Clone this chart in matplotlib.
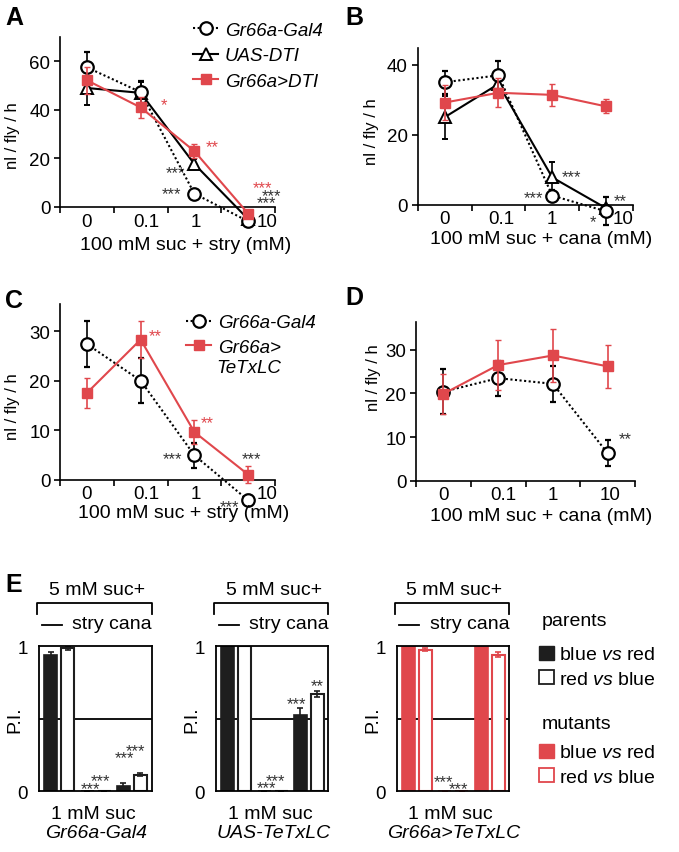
import matplotlib
matplotlib.use("Agg")
import matplotlib.pyplot as plt
from matplotlib.lines import Line2D
from matplotlib.patches import Patch

plt.rcParams['font.family'] = ['Liberation Sans', 'DejaVu Sans']
plt.rcParams['mathtext.fontset'] = 'custom'
plt.rcParams['mathtext.rm'] = 'Liberation Sans'
plt.rcParams['mathtext.it'] = 'Liberation Sans:italic'

W, H = 679, 853
RED = '#e0474c'
DARK = '#1e1e1e'
STARC = '#333333'
FS_TICK = 13.5
FS_LAB = 14
FS_YLAB = 12
FS_STAR = 12

# ---------------- data ----------------
conc = ['0', '0.1', '1', '10']
# Panel A (stry)
gal4_A = [57.5, 47.3, 5.5, -5.9]
gal4_A_err = [6.5, 4.5, 1.5, 1.5]
uas_A = [49.0, 47.0, 17.7, -5.0]
uas_A_err = [7.0, 4.5, 2.0, 1.0]
dti_A = [52.2, 41.0, 23.0, -2.7]
dti_A_err = [5.5, 4.5, 3.0, 1.5]
# Panel B (cana)
gal4_B = [35.0, 37.0, 2.6, -1.9]
gal4_B_err = [3.3, 4.0, 1.5, 4.0]
uas_B = [25.0, 34.5, 7.8, -1.0]
uas_B_err = [6.2, 3.0, 4.5, 1.0]
dti_B = [29.2, 32.0, 31.4, 28.1]
dti_B_err = [5.0, 4.2, 3.2, 2.0]
# Panel C (stry)
gal4_C = [27.4, 20.0, 4.9, -4.2]
gal4_C_err = [4.7, 4.5, 2.5, 1.0]
tetx_C = [17.5, 28.3, 9.6, 1.0]
tetx_C_err = [3.0, 3.8, 2.4, 1.8]
# Panel D (cana)
gal4_D = [20.4, 23.5, 22.2, 6.3]
gal4_D_err = [5.2, 4.0, 4.2, 3.0]
tetx_D = [19.9, 26.5, 28.7, 26.2]
tetx_D_err = [4.5, 5.8, 6.0, 5.0]
# Panel E (P.I.)
groups = ['\u2014', 'stry', 'cana']
gal4_bvr = [0.943, 0.0, 0.04]
gal4_bvr_err = [0.017, 0.0, 0.017]
gal4_rvb = [0.985, 0.0, 0.115]
gal4_rvb_err = [0.012, 0.0, 0.01]
uas_bvr = [1.0, 0.0, 0.526]
uas_bvr_err = [0.0, 0.0, 0.05]
uas_rvb = [1.0, 0.0, 0.671]
uas_rvb_err = [0.0, 0.0, 0.02]
mut_bvr = [1.0, 0.005, 0.995]
mut_bvr_err = [0.0, 0.0, 0.005]
mut_rvb = [0.977, 0.003, 0.943]
mut_rvb_err = [0.008, 0.0, 0.02]

fig = plt.figure(figsize=(W / 100, H / 100), dpi=100)


def axes_px(l, r, t, b):
    return fig.add_axes([l / W, 1 - b / H, (r - l) / W, (b - t) / H])


def ftext(x, y, s, **kw):
    fig.text(x / W, 1 - y / H, s, **kw)


def stars(ax, x, y, s, color=STARC):
    ax.annotate(s, (x, y), xytext=(0, -0.575 * FS_STAR), textcoords='offset points',
                ha='center', va='baseline', fontsize=FS_STAR, color=color,
                annotation_clip=False)


def line_axes(l, r, t, b, ytop, yticks, label_pos):
    ax = axes_px(l, r, t, b)
    ax.set_xlim(-0.5, 3.5)
    ax.set_ylim(0, ytop)
    for s in ['top', 'right']:
        ax.spines[s].set_visible(False)
    for s in ['left', 'bottom']:
        ax.spines[s].set_linewidth(1.2)
    ax.set_xticks([-0.5, 0.5, 1.5, 2.5, 3.5])
    ax.set_xticklabels([])
    ax.set_xticks(label_pos, minor=True)
    ax.set_xticklabels(conc, minor=True)
    ax.tick_params(axis='x', which='major', direction='out', length=4, width=1.2)
    ax.tick_params(axis='x', which='minor', length=0, pad=4, labelsize=FS_TICK)
    ax.set_yticks(yticks)
    ax.tick_params(axis='y', direction='out', length=4, width=1.2, pad=3, labelsize=FS_TICK)
    return ax


x = [0, 1, 2, 3]


def series(ax, y, e, kind):
    if kind == 'gal4':
        ax.errorbar(x, y, yerr=e, color='black', ls=(0, (1, 1.2)), lw=1.5, marker='o',
                    ms=9, mfc='white', mec='black', mew=1.6, ecolor='black',
                    elinewidth=1.2, capsize=2, clip_on=False, zorder=4)
    elif kind == 'uas':
        ax.errorbar(x, y, yerr=e, color='black', ls='-', lw=1.5, marker='^',
                    ms=9, mfc='white', mec='black', mew=1.4, ecolor='black',
                    elinewidth=1.2, capsize=2, clip_on=False, zorder=3)
    else:
        ax.errorbar(x, y, yerr=e, color=RED, ls='-', lw=1.5, marker='s',
                    ms=7, mfc=RED, mec=RED, ecolor=RED,
                    elinewidth=1.2, capsize=2, clip_on=False, zorder=5)


# ---------------- Panel A ----------------
axA = line_axes(60, 275, 38, 208, 70, [0, 20, 40, 60], [0, 1.1, 2.03, 3.35])
series(axA, uas_A, uas_A_err, 'uas')
series(axA, gal4_A, gal4_A_err, 'gal4')
series(axA, dti_A, dti_A_err, 'red')
for (sx, sy, s, c) in [(1.43, 44.4, '*', RED), (2.33, 27.1, '**', RED),
                       (1.64, 16.4, '***', STARC), (1.58, 7.4, '***', STARC),
                       (3.26, 9.9, '***', RED), (3.43, 6.6, '***', STARC),
                       (3.35, 3.7, '***', STARC)]:
    stars(axA, sx, sy, s, c)
hA = [Line2D([], [], color='black', ls=(0, (1, 1.2)), lw=1.5, marker='o', ms=9,
             mfc='white', mec='black', mew=1.6),
      Line2D([], [], color='black', ls='-', lw=1.5, marker='^', ms=9,
             mfc='white', mec='black', mew=1.4),
      Line2D([], [], color=RED, ls='-', lw=1.5, marker='s', ms=7, mfc=RED, mec=RED)]
axA.legend(hA, ['Gr66a-Gal4', 'UAS-DTI', 'Gr66a>DTI'], loc='upper left',
           bbox_to_anchor=(193 / W, 1 - 22.5 / H), bbox_transform=fig.transFigure,
           frameon=False, borderpad=0, borderaxespad=0, handlelength=1.35,
           handletextpad=0.35, labelspacing=0.45,
           prop={'style': 'italic', 'size': FS_TICK})
ftext(185.8, 246, '100 mM suc + stry (mM)', ha='center', va='center', fontsize=FS_LAB)
ftext(12, 136, 'nl / fly / h', ha='center', va='center', rotation=90, fontsize=FS_YLAB)

# ---------------- Panel B ----------------
axB = line_axes(417.7, 633, 49, 205.7, 44.8, [0, 20, 40], [0, 1.05, 2.0, 3.32])
series(axB, uas_B, uas_B_err, 'uas')
series(axB, gal4_B, gal4_B_err, 'gal4')
series(axB, dti_B, dti_B_err, 'red')
for (sx, sy, s) in [(2.35, 9.6, '***'), (1.66, 3.6, '***'), (3.26, 2.5, '**'),
                    (2.76, -3.5, '*')]:
    stars(axB, sx, sy, s)
ftext(540.8, 239, '100 mM suc + cana (mM)', ha='center', va='center', fontsize=FS_LAB)
ftext(371.7, 132, 'nl / fly / h', ha='center', va='center', rotation=90, fontsize=FS_YLAB)

# ---------------- Panel C ----------------
axC = line_axes(60, 275, 305, 480.5, 35.5, [0, 10, 20, 30], [0, 1.1, 2.03, 3.35])
series(axC, gal4_C, gal4_C_err, 'gal4')
series(axC, tetx_C, tetx_C_err, 'red')
for (sx, sy, s, c) in [(1.27, 30.2, '**', RED), (2.23, 12.6, '**', RED),
                       (1.6, 5.3, '***', STARC), (3.07, 5.3, '***', STARC),
                       (2.66, -4.5, '***', STARC)]:
    stars(axC, sx, sy, s, c)
axC.legend([hA[0], hA[2]], ['Gr66a-Gal4', 'Gr66a>'], loc='upper left',
           bbox_to_anchor=(186 / W, 1 - 315 / H), bbox_transform=fig.transFigure,
           frameon=False, borderpad=0, borderaxespad=0, handlelength=1.35,
           handletextpad=0.35, labelspacing=0.4,
           prop={'style': 'italic', 'size': FS_TICK})
ftext(216.7, 368.3, 'TeTxLC', ha='left', va='center', fontsize=FS_TICK, style='italic')
ftext(184, 514, '100 mM suc + stry (mM)', ha='center', va='center', fontsize=FS_LAB)
ftext(12, 407, 'nl / fly / h', ha='center', va='center', rotation=90, fontsize=FS_YLAB)

# ---------------- Panel D ----------------
axD = line_axes(416, 635, 323.3, 481.7, 36.3, [0, 10, 20, 30], [0, 1.1, 2.0, 3.05])
series(axD, gal4_D, gal4_D_err, 'gal4')
series(axD, tetx_D, tetx_D_err, 'red')
stars(axD, 3.32, 10.7, '**')
ftext(541, 516.7, '100 mM suc + cana (mM)', ha='center', va='center', fontsize=FS_LAB)
ftext(373, 378, 'nl / fly / h', ha='center', va='center', rotation=90, fontsize=FS_YLAB)

# ---------------- Panel E ----------------
def bar_axes(l, bvr, bvr_e, rvb, rvb_e, col, genotype, star_list):
    ax = axes_px(l, l + 112.5, 647.3, 792.3)
    ax.set_xlim(-0.56, 2.54)
    ax.set_ylim(0, 1)
    for s in ax.spines.values():
        s.set_linewidth(1.3)
    ax.axhline(0.5, color='black', lw=1.3, zorder=1)
    xs = [0, 1, 2]
    off, w = 0.233, 0.36
    ax.bar([v - off for v in xs], bvr, width=w, color=col, edgecolor=col, lw=1.2,
           yerr=bvr_e, error_kw=dict(ecolor=col, elinewidth=1.2, capsize=2.5, capthick=1.2),
           zorder=2)
    ax.bar([v + off for v in xs], rvb, width=w, color='white', edgecolor=col, lw=1.5,
           yerr=rvb_e, error_kw=dict(ecolor=col, elinewidth=1.2, capsize=2.5, capthick=1.2),
           zorder=2)
    ax.set_xticks([])
    ax.set_yticks([0, 1])
    ax.set_yticklabels(['0', '1'])
    ax.tick_params(axis='y', length=0, pad=8, labelsize=FS_TICK)
    # header bracket
    tr = ax.transAxes
    ax.plot([-0.015, -0.015, 1.0, 1.0], [1.223, 1.299, 1.299, 1.223], color='black',
            lw=1.3, transform=tr, clip_on=False)
    ax.text(0.512, 1.395, '5 mM suc+', ha='center', va='center', fontsize=FS_LAB,
            transform=tr)
    ax.plot([0.024, 0.201], [1.147, 1.147], color='black', lw=1.3, transform=tr,
            clip_on=False)
    ax.text(1.0, 1.128, groups[1] + ' ' + groups[2], ha='right', va='baseline',
            fontsize=FS_LAB, transform=tr)
    ax.text(0.48, -0.155, '1 mM suc', ha='center', va='center', fontsize=FS_LAB,
            transform=tr)
    ax.text(0.51, -0.285, genotype, ha='center', va='center', fontsize=FS_LAB,
            style='italic', transform=tr)
    ax.text(-0.213, 0.5, 'P.I.', ha='center', va='center', rotation=90,
            fontsize=FS_LAB, transform=tr)
    for (sx, sy, s) in star_list:
        stars(ax, sx, sy, s)
    return ax


bar_axes(39, gal4_bvr, gal4_bvr_err, gal4_rvb, gal4_rvb_err, DARK, 'Gr66a-Gal4',
         [(1.14, 0.112, '***'), (0.87, 0.055, '***'), (2.10, 0.314, '***'),
          (1.80, 0.264, '***')])
bar_axes(216, uas_bvr, uas_bvr_err, uas_rvb, uas_rvb_err, DARK, 'UAS-TeTxLC',
         [(1.08, 0.108, '***'), (0.84, 0.057, '***'), (1.66, 0.643, '***'),
          (2.23, 0.763, '**')])
bar_axes(396.7, mut_bvr, mut_bvr_err, mut_rvb, mut_rvb_err, RED, 'Gr66a>TeTxLC',
         [(0.72, 0.10, '***'), (1.13, 0.055, '***')])

lab1 = 'blue $\\it{vs}$ red'
lab2 = 'red $\\it{vs}$ blue'
leg_kw = dict(loc='upper left', frameon=False, borderpad=0, borderaxespad=0,
              handlelength=0.75, handleheight=0.75, handletextpad=0.3,
              labelspacing=0.35, fontsize=FS_LAB)
fig.legend([Patch(facecolor=DARK, edgecolor=DARK),
            Patch(facecolor='white', edgecolor=DARK, lw=1.3)],
           [lab1, lab2], bbox_to_anchor=(539 / W, 1 - 646.5 / H), **leg_kw)
fig.legend([Patch(facecolor=RED, edgecolor=RED),
            Patch(facecolor='white', edgecolor=RED, lw=1.3)],
           [lab1, lab2], bbox_to_anchor=(539 / W, 1 - 744.5 / H), **leg_kw)
ftext(541.7, 621.7, 'parents', ha='left', va='center', fontsize=FS_LAB)
ftext(541.7, 725, 'mutants', ha='left', va='center', fontsize=FS_LAB)

# panel letters
for (lx, ly, L) in [(5, 25, 'A'), (345, 25, 'B'), (5, 308, 'C'), (345, 305, 'D'),
                    (5, 592, 'E')]:
    ftext(lx, ly, L, ha='left', va='baseline', fontsize=18, fontweight='bold')

fig.savefig('out.png', dpi=100)
